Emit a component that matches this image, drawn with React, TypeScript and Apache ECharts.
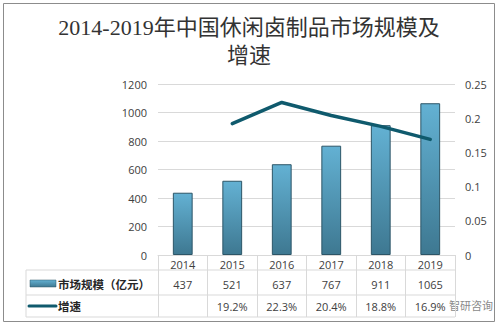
import React, { useEffect, useRef } from "react";
import * as echarts from "echarts";

const years = ["2014", "2015", "2016", "2017", "2018", "2019"];
const marketSize = [437, 521, 637, 767, 911, 1065];
const growth: (number | null)[] = [null, 0.192, 0.223, 0.204, 0.188, 0.169];
const leftTicks = { min: 0, max: 1200, interval: 200 };
const rightTicks = { min: 0, max: 0.25, interval: 0.05 };
const seriesNames = ["市场规模（亿元）", "增速"];
const titleText = "2014-2019年中国休闲卤制品市场规模及\n增速";

export default function App() {
  const ref = useRef<HTMLDivElement>(null);
  useEffect(() => {
    document.body.style.margin = "0";
    const chart = echarts.init(ref.current!, null, { renderer: "svg" });
    const gl = 158, gr = 43, gt = 84, gb = 71; // grid: 158..455, 84..255
    const W = 498, H = 326;
    const right = W - gr;
    const axisY = H - gb;
    const tableLeft = 26;
    const row2 = axisY + 15, row3 = axisY + 40, rowEnd = axisY + 62;
    const barGrad = new echarts.graphic.LinearGradient(0, 0, 0, 1, [
      { offset: 0, color: "#63b1d3" },
      { offset: 1, color: "#3e7891" },
    ]);
    const lineColor = "#0f5a6d";
    const hline = (y: number) => ({
      type: "line",
      shape: { x1: tableLeft, y1: y, x2: right, y2: y },
      style: { stroke: "#d9d9d9", lineWidth: 1 },
      silent: true,
    });
    const fmtPct = (g: number | null) => (g == null ? " " : (g * 100).toFixed(1) + "%");
    const labelFont = "'Open Sans', sans-serif";
    chart.setOption({
      animation: false,
      backgroundColor: "#ffffff",
      title: {
        text: titleText,
        left: "center",
        top: 8,
        textStyle: {
          fontFamily: "'Liberation Serif', 'Noto Sans CJK SC', serif",
          fontSize: 22,
          fontWeight: "normal",
          color: "#333333",
          lineHeight: 28,
        },
      },
      grid: { left: gl, right: gr, top: gt, bottom: gb },
      xAxis: {
        type: "category",
        data: years,
        boundaryGap: true,
        axisLine: { lineStyle: { color: "#d9d9d9" } },
        axisTick: { show: true, length: 62, lineStyle: { color: "#d9d9d9" } },
        axisLabel: {
          margin: 2,
          interval: 0,
          formatter: (v: string, i: number) =>
            `{y|${v}}\n{v|${marketSize[i]}}\n{g|${fmtPct(growth[i])}}`,
          rich: {
            y: { lineHeight: 14, fontSize: 11, color: "#404040", fontFamily: labelFont },
            v: { lineHeight: 26, fontSize: 11, color: "#404040", fontFamily: labelFont },
            g: { lineHeight: 18, fontSize: 11, color: "#404040", fontFamily: labelFont },
          },
        },
      },
      yAxis: [
        {
          type: "value",
          min: leftTicks.min,
          max: leftTicks.max,
          interval: leftTicks.interval,
          axisLine: { show: false },
          axisTick: { show: false },
          axisLabel: {
            margin: 11,
            fontSize: 11,
            color: "#404040",
            fontFamily: labelFont,
            formatter: (v: number) => String(v),
          },
          splitLine: { lineStyle: { color: "#d9d9d9" } },
        },
        {
          type: "value",
          min: rightTicks.min,
          max: rightTicks.max,
          interval: rightTicks.interval,
          axisLine: { show: false },
          axisTick: { show: false },
          axisLabel: {
            margin: 10,
            fontSize: 11,
            color: "#404040",
            fontFamily: labelFont,
            formatter: (v: number) => String(Math.round(v * 100) / 100),
          },
          splitLine: { show: false },
        },
      ],
      series: [
        {
          name: seriesNames[0],
          type: "bar",
          data: marketSize,
          barWidth: "40%",
          itemStyle: { color: barGrad, borderColor: "#2c5567", borderWidth: 1 },
        },
        {
          name: seriesNames[1],
          type: "line",
          yAxisIndex: 1,
          data: growth,
          showSymbol: false,
          symbol: "none",
          lineStyle: { color: lineColor, width: 3.5, cap: "round", join: "round" },
          itemStyle: { color: lineColor },
        },
      ],
      graphic: [
        {
          type: "rect",
          shape: { x: 3.5, y: 3.5, width: 491, height: 318 },
          style: { fill: "none", stroke: "#8c8c8c", lineWidth: 1 },
          silent: true,
        },
        hline(row2),
        hline(row3),
        hline(rowEnd),
        {
          type: "line",
          shape: { x1: tableLeft, y1: row2, x2: tableLeft, y2: rowEnd },
          style: { stroke: "#d9d9d9", lineWidth: 1 },
          silent: true,
        },
        {
          type: "rect",
          shape: { x: 30, y: row2 + 10, width: 26, height: 7 },
          style: { fill: barGrad, stroke: "#2c5567", lineWidth: 0.5 },
        },
        {
          type: "text",
          x: 58,
          y: row2 + 13.5,
          style: {
            text: seriesNames[0],
            fontSize: 11.5,
            fontWeight: "bold",
            fill: "#262626",
            fontFamily: "'Noto Sans CJK SC', sans-serif",
            verticalAlign: "middle",
          },
        },
        {
          type: "line",
          shape: { x1: 29, y1: row3 + 11, x2: 56, y2: row3 + 11 },
          style: { stroke: lineColor, lineWidth: 3, lineCap: "round" },
        },
        {
          type: "text",
          x: 58,
          y: row3 + 11,
          style: {
            text: seriesNames[1],
            fontSize: 11.5,
            fontWeight: "bold",
            fill: "#262626",
            fontFamily: "'Noto Sans CJK SC', sans-serif",
            verticalAlign: "middle",
          },
        },
        {
          type: "text",
          x: 449,
          y: row3 + 10,
          style: {
            text: "智研咨询",
            fontSize: 11,
            fill: "#8a8a8a",
            fontFamily: "'Noto Sans CJK SC', sans-serif",
            verticalAlign: "middle",
          },
        },
      ],
    });
    return () => chart.dispose();
  }, []);
  return <div ref={ref} style={{ width: 498, height: 326 }} />;
}
